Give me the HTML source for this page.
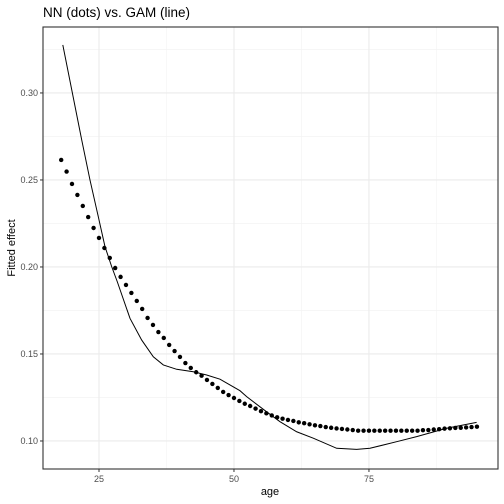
<!DOCTYPE html>
<html><head><meta charset="utf-8"><style>
body{margin:0;background:#fff;}
svg{display:block;font-family:"Liberation Sans",Arial,sans-serif;}
</style></head><body>
<svg width="504" height="504">
<g id="grid"></g>
<g id="marks"></g>
<rect x="43" y="27" width="455" height="442" fill="none" stroke="#333" stroke-width="1.1"/>
<g id="axes"></g>
<text x="43" y="17" font-size="13.5" fill="#000">NN (dots) vs. GAM (line)</text>
<text x="270" y="495" font-size="11" text-anchor="middle" fill="#000">age</text>
<text transform="translate(15,248) rotate(-90)" font-size="11" text-anchor="middle" fill="#000">Fitted effect</text>
</svg>
<script>
const dotAges=[18,19,20,21,22,23,24,25,26,27,28,29,30,31,32,33,34,35,36,37,38,39,40,41,42,43,44,45,46,47,48,49,50,51,52,53,54,55,56,57,58,59,60,61,62,63,64,65,66,67,68,69,70,71,72,73,74,75,76,77,78,79,80,81,82,83,84,85,86,87,88,89,90,91,92,93,94,95];
const dotValues=[.2615,.2548,.2477,.2414,.2351,.2287,.2224,.2167,.2109,.2052,.1994,.1943,.1897,.1851,.1805,.1759,.1707,.1667,.1626,.1592,.1552,.1517,.1483,.1448,.1420,.1395,.1375,.1351,.1328,.1305,.1282,.1264,.1247,.1230,.1214,.1201,.1186,.1171,.1159,.1147,.1136,.1128,.1121,.1115,.1107,.1102,.1096,.1090,.1086,.1080,.1076,.1072,.1069,.1066,.1063,.1059,.1059,.1059,.1059,.1059,.1059,.1059,.1059,.1059,.1059,.1059,.1059,.1062,.1063,.1066,.1068,.1071,.1073,.1075,.1076,.1078,.1080,.1082];
const lineAges=[18.3,21.8,23.33,24.87,26.11,27.35,28.39,30.74,32.91,35.06,36.91,39.39,42.46,44.94,47.41,51.11,52.35,55.43,58.52,61.61,64.69,69.02,72.72,75.19,80.13,83.83,89.39,94.94];
const lineValues=[.3276,.2730,.2500,.2289,.2117,.2002,.1915,.1705,.1580,.1484,.1437,.1412,.1398,.1379,.1355,.1289,.1255,.1182,.1111,.1053,.1016,.0958,.0952,.0958,.0996,.1025,.1073,.1107];
const xTicks=[25,50,75];
const xMinor=[37.5,62.5,87.5];
const yTicks=[0.10,0.15,0.20,0.25,0.30];
const yTickLabels=["0.10","0.15","0.20","0.25","0.30"];
const yMinor=[0.125,0.175,0.225,0.275,0.325];
const X0=43,X1=498,Y0=27,Y1=469;
const xMin=14.63,xMax=98.9,yMin=0.0839,yMax=0.3379;
const sx=a=>X0+(a-xMin)/(xMax-xMin)*(X1-X0);
const sy=v=>Y1-(v-yMin)/(yMax-yMin)*(Y1-Y0);
const NS="http://www.w3.org/2000/svg";
const grid=document.getElementById('grid'),marks=document.getElementById('marks'),axes=document.getElementById('axes');
function mk(t,p,a){const e=document.createElementNS(NS,t);for(const k in a)e.setAttribute(k,a[k]);p.appendChild(e);return e;}
xMinor.forEach(v=>{const e=mk('line',grid,{x1:sx(v),x2:sx(v),y1:Y0,y2:Y1,stroke:'#f2f2f2','stroke-width':0.6});

});
yMinor.forEach(v=>{if(sy(v)<Y0)return;const e=mk('line',grid,{x1:X0,x2:X1,y1:sy(v),y2:sy(v),stroke:'#f2f2f2','stroke-width':0.6});

});
xTicks.forEach(v=>{const e=mk('line',grid,{x1:sx(v),x2:sx(v),y1:Y0,y2:Y1,stroke:'#ebebeb','stroke-width':1.1});


const t=mk('line',axes,{x1:sx(v),x2:sx(v),y1:Y1,y2:Y1+3,stroke:'#333'});


const l=mk('text',axes,{x:sx(v),y:Y1+13,'font-size':9,'text-anchor':'middle',fill:'#4d4d4d'});l.textContent=v;

});
yTicks.forEach((v,i)=>{const e=mk('line',grid,{x1:X0,x2:X1,y1:sy(v),y2:sy(v),stroke:'#ebebeb','stroke-width':1.1});


const t=mk('line',axes,{x1:X0-3,x2:X0,y1:sy(v),y2:sy(v),stroke:'#333'});


const l=mk('text',axes,{x:X0-5,y:sy(v)+3,'font-size':9,'text-anchor':'end',fill:'#4d4d4d'});l.textContent=yTickLabels[i];

});
const pl=mk('polyline',marks,{points:lineAges.map((a,i)=>sx(a)+','+sy(lineValues[i])).join(' '),fill:'none',stroke:'#000','stroke-width':1});


dotAges.forEach((a,i)=>{const c=mk('circle',marks,{cx:sx(a),cy:sy(dotValues[i]),r:2.2,fill:'#000'});

});
</script>
</body></html>
